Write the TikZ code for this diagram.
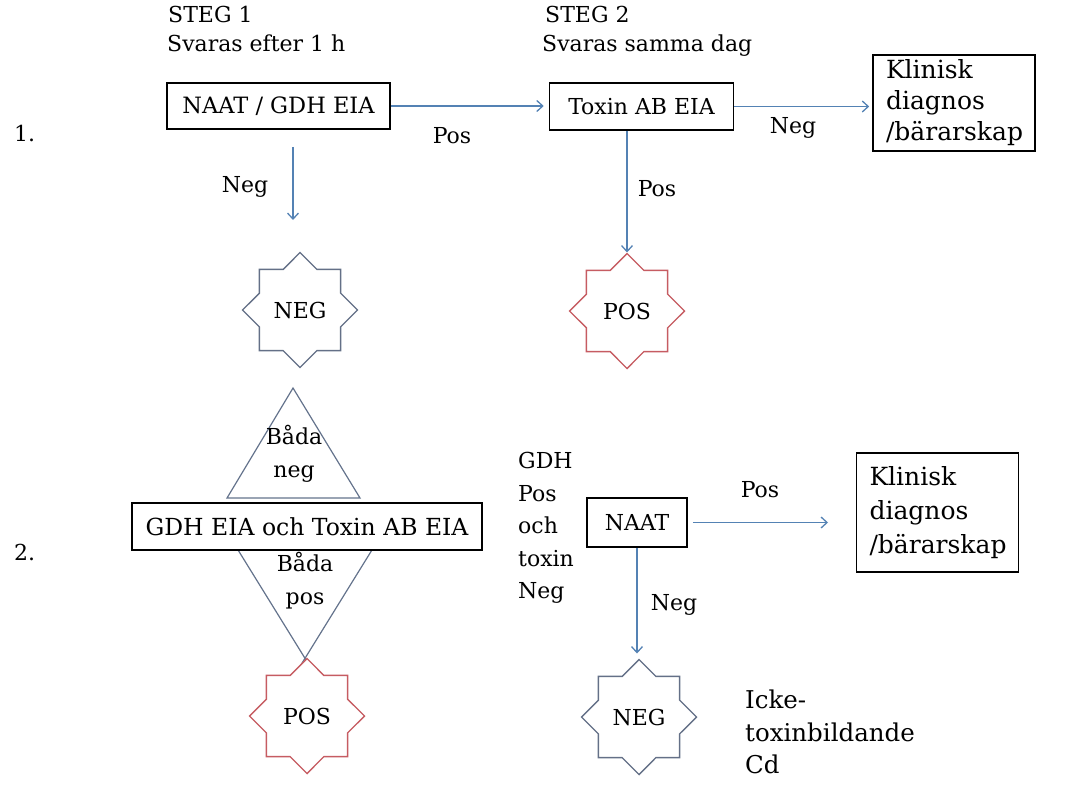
\documentclass[tikz,border=0pt]{standalone}
\usepackage{fontspec}
\setmainfont{DejaVu Serif}
\usetikzlibrary{shapes.geometric,arrows.meta}
\definecolor{arrblue}{RGB}{84,130,180}
\definecolor{negcol}{RGB}{100,112,135}
\definecolor{poscol}{RGB}{198,92,98}
\definecolor{tricol}{RGB}{100,115,140}
\begin{document}
\begin{tikzpicture}[x=1pt,y=-1pt,
  every node/.style={font=\fontsize{22}{33}\selectfont, text=black},
  lbl/.style={inner sep=0pt},
  box/.style={draw=black, line width=1.6pt, fill=white, inner sep=0pt},
  klin/.style={box, text width=136pt, align=left, minimum width=162pt},
  arr/.style={draw=arrblue, line width=1.3pt, -{Straight Barb[length=6pt,width=11pt]}},
  starbase/.style={star, star points=8, star point ratio=1.307, minimum size=115pt, inner sep=0pt, line width=1.4pt, fill=white},
  negstar/.style={starbase, draw=negcol},
  posstar/.style={starbase, draw=poscol},
  tri/.style={draw=tricol, line width=1.2pt},
]
\useasboundingbox (0,0) rectangle (1065,792);

% row numbers
\node[lbl, anchor=base west] (r1) at (14,141) {1.};
\node[lbl, anchor=base west] (r2) at (14,560) {2.};

% row 1
\node[lbl, anchor=base west] (steg1) at (168,23) {STEG 1};
\node[lbl, anchor=base west] (sv1) at (167,52) {Svaras efter 1 h};
\node[lbl, anchor=base west] (steg2) at (545,23) {STEG 2};
\node[lbl, anchor=base west] (sv2) at (542,52) {Svaras samma dag};

\node[box, minimum width=223pt, minimum height=46pt, font=\fontsize{22.5}{33}\selectfont] (b1) at (278.5,106) {NAAT / GDH EIA};
\node[box, minimum width=184pt, minimum height=47pt] (tox) at (641.5,106.5) {Toxin AB EIA};
\node[klin, minimum height=96pt, font=\fontsize{25}{31}\selectfont] (k1) at (954,103) {Klinisk\\diagnos\\/bärarskap};

\node[negstar] (neg1) at (300,310) {NEG};
\node[posstar] (pos1) at (627,311) {POS};

\draw[arr, shorten >=5pt] (b1.east) -- (b1.east -| tox.west);
\draw[arr, shorten >=3pt] (tox.east) -- (tox.east -| k1.west);
\coordinate (n1end) at (293,220);
\draw[arr] ([yshift=-17pt]n1end |- b1.south) -- (n1end);
\draw[arr] (pos1.north |- tox.south) -- (pos1.north);

\node[lbl, anchor=center] (lpos1) at (452,136) {Pos};
\node[lbl, anchor=base] (lneg1) at (793,133) {Neg};
\node[lbl, anchor=base] (lneg2) at (245,192) {Neg};
\node[lbl, anchor=base] (lpos2) at (657,196) {Pos};

% row 2
\draw[tri] (293,388) -- (227,498) -- (360,498) -- cycle;
\draw[tri] (209,503) -- (311,668);
\draw[tri] (401,503) -- (299,668);
\node[box, minimum width=350pt, minimum height=47pt, font=\fontsize{23.5}{33}\selectfont] (b2) at (307,526.5) {GDH EIA och Toxin AB EIA};
\node[lbl, align=center] (bneg) at (294,454) {Båda\\neg};
\node[lbl, align=center] (bpos) at (305,581) {Båda\\pos};
\node[posstar] (pos2) at (307,716) {POS};

\node[lbl, anchor=north west, align=left, font=\fontsize{22}{32.5}\selectfont] (cond) at (518,452) {GDH\\Pos\\och\\toxin\\Neg};
\node[box, minimum width=100pt, minimum height=49pt] (naat) at (637,522.5) {NAAT};
\node[klin, minimum height=119pt, font=\fontsize{25}{34}\selectfont] (k2) at (937.5,512.5) {Klinisk\\diagnos\\/bärarskap};
\node[negstar] (neg2) at (639,717) {NEG};
\coordinate (k2end) at (828,522.5);
\draw[arr] ([xshift=5pt]naat.east) -- (k2end);
\draw[arr, shorten >=5pt] (naat.south) -- (naat.south |- neg2.north);
\node[lbl, anchor=center] (lpos3) at (760,490) {Pos};
\node[lbl, anchor=base] (lneg3) at (674,610) {Neg};
\node[lbl, anchor=north west, align=left, font=\fontsize{24.5}{32.5}\selectfont] (icke) at (745,690) {Icke-\\toxinbildande\\Cd};
\end{tikzpicture}
\end{document}
